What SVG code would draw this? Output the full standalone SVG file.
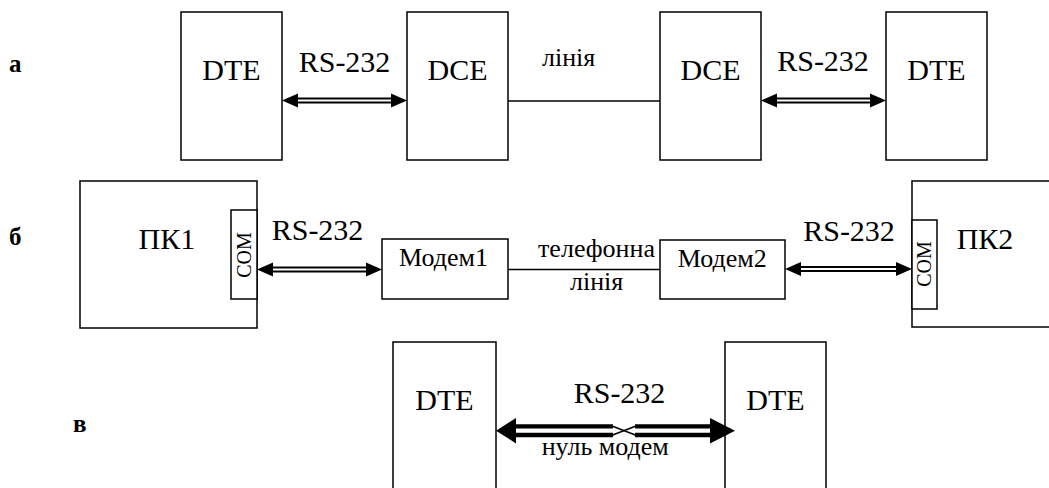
<svg xmlns="http://www.w3.org/2000/svg" width="1049" height="488" viewBox="0 0 1049 488">
<style>
.box{fill:#fff;stroke:#000;stroke-width:1.5}
.dl{stroke:#000;stroke-width:1.8;fill:none}
.nl{stroke:#000;stroke-width:4.3;fill:none}
.ln{stroke:#000;stroke-width:1.5;fill:none}
</style>
<rect width="1049" height="488" fill="#fff"/>
<text font-family="Times New Roman" font-size="25" font-weight="bold" x="9" y="72">а</text>
<text font-family="Times New Roman" font-size="25" font-weight="bold" x="9" y="245">б</text>
<text font-family="Times New Roman" font-size="25" font-weight="bold" x="73" y="432">в</text>

<g id="a-dte1"><rect class="box" x="181" y="12" width="101" height="148"/><text font-family="Times New Roman" font-size="30" x="202.3" y="80">DTE</text></g>
<g id="a-dce1"><rect class="box" x="407" y="12" width="101" height="148"/><text font-family="Times New Roman" font-size="30" x="427.5" y="80">DCE</text></g>
<g id="a-dce2"><rect class="box" x="660" y="12" width="101" height="148"/><text font-family="Times New Roman" font-size="30" x="680.5" y="80">DCE</text></g>
<g id="a-dte2"><rect class="box" x="886" y="12" width="101" height="148"/><text font-family="Times New Roman" font-size="30" x="907.3" y="80">DTE</text></g>

<g id="b-pc1"><rect class="box" x="80" y="181" width="177" height="147"/><text font-family="Times New Roman" font-size="30" x="138.5" y="249">ПК1</text>
<rect class="box" x="231" y="210" width="26" height="89"/><text font-family="Times New Roman" font-size="20" transform="translate(251,255) rotate(-90)" x="-22.8" y="0">COM</text></g>
<g id="b-modem1"><rect class="box" x="382" y="239" width="126" height="60"/><text font-family="Times New Roman" font-size="26" x="399" y="266">Модем1</text></g>
<g id="b-modem2"><rect class="box" x="660" y="240" width="125" height="59"/><text font-family="Times New Roman" font-size="26" x="677.7" y="266.5">Модем2</text></g>
<g id="b-pc2"><rect class="box" x="912" y="181" width="150" height="146"/><text font-family="Times New Roman" font-size="30" x="956.7" y="249">ПК2</text>
<rect class="box" x="912" y="220" width="25" height="89"/><text font-family="Times New Roman" font-size="20" transform="translate(931,264) rotate(-90)" x="-22.8" y="0">COM</text></g>

<g id="c-dte1"><rect class="box" x="393" y="342" width="103" height="160"/><text font-family="Times New Roman" font-size="30" x="415.3" y="410">DTE</text></g>
<g id="c-dte2"><rect class="box" x="725" y="342" width="101" height="160"/><text font-family="Times New Roman" font-size="30" x="746.3" y="410">DTE</text></g>

<g id="connectors">
<line class="dl" x1="296" y1="98.5" x2="393" y2="98.5"/><line class="dl" x1="296" y1="102.5" x2="393" y2="102.5"/>
<polygon points="282,100.5 298,93.5 298,107.5"/><polygon points="407,100.5 391,93.5 391,107.5"/>
<text font-family="Times New Roman" font-size="30" x="298.7" y="71.5">RS-232</text>
<line class="ln" x1="508" y1="101" x2="660" y2="101"/>
<text font-family="Times New Roman" font-size="26" x="542" y="66">лінія</text>
<line class="dl" x1="775" y1="98.5" x2="872" y2="98.5"/><line class="dl" x1="775" y1="102.5" x2="872" y2="102.5"/>
<polygon points="761,100.5 777,93.5 777,107.5"/><polygon points="886,100.5 870,93.5 870,107.5"/>
<text font-family="Times New Roman" font-size="30" x="777.2" y="71">RS-232</text>
<line class="dl" x1="271" y1="267.5" x2="368" y2="267.5"/><line class="dl" x1="271" y1="271.5" x2="368" y2="271.5"/>
<polygon points="257,269.5 273,262.5 273,276.5"/><polygon points="382,269.5 366,262.5 366,276.5"/>
<text font-family="Times New Roman" font-size="30" x="271.7" y="240">RS-232</text>
<line class="ln" x1="508" y1="269.5" x2="660" y2="269.5"/>
<text font-family="Times New Roman" font-size="26" x="538" y="257">телефонна</text>
<text font-family="Times New Roman" font-size="26" x="570" y="290">лінія</text>
<line class="dl" x1="799" y1="267" x2="898" y2="267"/><line class="dl" x1="799" y1="271" x2="898" y2="271"/>
<polygon points="785,269 801,262 801,276"/><polygon points="912,269 896,262 896,276"/>
<text font-family="Times New Roman" font-size="30" x="803.2" y="241">RS-232</text>
<line class="nl" x1="512" y1="426.3" x2="613" y2="426.3"/><line class="nl" x1="512" y1="435" x2="613" y2="435"/>
<line class="nl" x1="635" y1="426.3" x2="712" y2="426.3"/><line class="nl" x1="635" y1="435" x2="712" y2="435"/>
<line class="ln" x1="612" y1="426" x2="636" y2="435.3"/><line class="ln" x1="612" y1="435.3" x2="636" y2="426"/>
<polygon points="496,430.7 516,418 516,443.4"/><polygon points="735,430.7 710,418 710,443.4"/>
<text font-family="Times New Roman" font-size="30" x="573.7" y="402.5">RS-232</text>
<text font-family="Times New Roman" font-size="26" x="541.7" y="455">нуль модем</text>
</g>
</svg>
